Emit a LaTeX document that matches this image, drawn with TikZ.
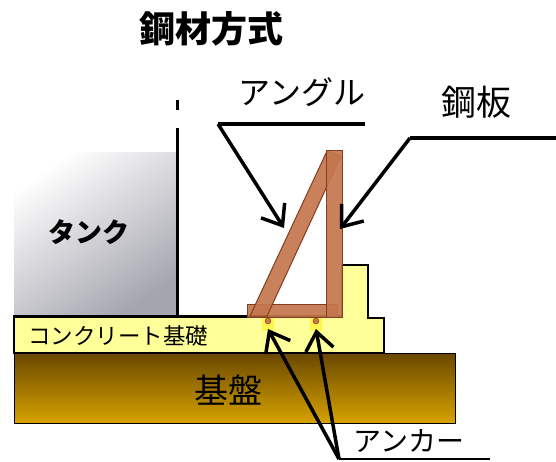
\documentclass[tikz,border=0pt]{standalone}
\usepackage{fontspec}
\usepackage{xcolor}
\usepackage{tikz}
\usetikzlibrary{arrows.meta,positioning,shapes}
\newfontfamily\jp{Noto Sans CJK JP}
\definecolor{slab}{RGB}{255,255,153}
\definecolor{steel}{RGB}{196,118,78}
\definecolor{steeldark}{RGB}{130,62,32}
\definecolor{soiltop}{RGB}{105,72,0}
\definecolor{soilbot}{RGB}{215,162,0}
\definecolor{tankgray}{RGB}{165,165,175}
\tikzstyle{arrow} = [line width=3.5pt,-{Straight Barb[length=18pt,width=28pt]}]
\tikzstyle{leader} = [line width=3.5pt]
\tikzstyle{bar} = [fill=steel, draw=steeldark, line width=1pt, fill opacity=0.92]
\tikzstyle{lbl} = [inner sep=0pt, font=\jp]

\begin{document}
\begin{tikzpicture}[x=1pt,y=-1pt]
\useasboundingbox (0,0) rectangle (556,461);
% ground and foundation
\draw [black, line width=1pt, top color=soiltop, bottom color=soilbot] (14,353) rectangle (455,423);
\draw [black, line width=2pt, fill=slab] (14,316) -- (342,316) -- (342,265) -- (368,265) -- (368,318) -- (384,318) -- (384,353) -- (14,353) -- cycle;
% tank
\shade [top color=white, bottom color=tankgray, shading angle=35] (14,152) rectangle (177,316);
\draw [black, line width=3pt, dash pattern=on 10pt off 18pt on 300pt] (177,100) -- (177,316);
\draw [black, line width=3pt] (14,316) -- (250,316);
% anchors
\foreach \x in {268,316} {
  \fill [yellow!50!slab] (\x-6,318) rectangle (\x+6,331);
  \draw [steeldark, fill=steel] (\x,321) circle (3pt);
}
% angle and plate
\draw [bar] (247,304) rectangle (337,317);
\draw [bar] (250,316) -- (267,316) -- (341,156) -- (327,151) -- cycle;
\draw [bar] (326,150) rectangle (342,317);

\node [lbl, font=\jp\bfseries\fontsize{36}{36}\selectfont] (title) at (211,29) {鋼材方式};
\node [lbl, font=\jp\bfseries\fontsize{27}{27}\selectfont] (tank) at (89,232) {タンク};
\node [lbl, font=\jp\fontsize{22.5}{22.5}\selectfont] (base) at (118,336) {コンクリート基礎};
\node [lbl, font=\jp\fontsize{34}{34}\selectfont] (ground) at (228,390) {基盤};
\node [lbl, font=\jp\fontsize{32}{32}\selectfont] (angle) at (302,92) {アングル};
\node [lbl, font=\jp\fontsize{35}{35}\selectfont] (plate) at (476,102) {鋼板};
\node [lbl, font=\jp\fontsize{28}{28}\selectfont] (anchor) at (409,441) {アンカー};

\coordinate (angleL) at (218,124);
\coordinate (angleR) at (365,124);
\coordinate (angleTip) at (284,228);
\coordinate (plateL) at (410,138);
\coordinate (plateR) at (556,138);
\coordinate (plateTip) at (340,229);
\coordinate (anchorL) at (339,459);
\coordinate (anchorR) at (490,459);
\coordinate (boltA) at (268,329);
\coordinate (boltB) at (316,329);

\draw [leader] (angleL) -- (angleR);
\draw [arrow] (angleL) -- (angleTip);
\draw [leader] (plateL) -- (plateR);
\draw [arrow] (plateL) -- (plateTip);
\draw [leader, line width=1.5pt] (anchorL) -- (anchorR);
\draw [arrow] (anchorL) -- (boltA);
\draw [arrow] (anchorL) -- (boltB);
\end{tikzpicture}
\end{document}
